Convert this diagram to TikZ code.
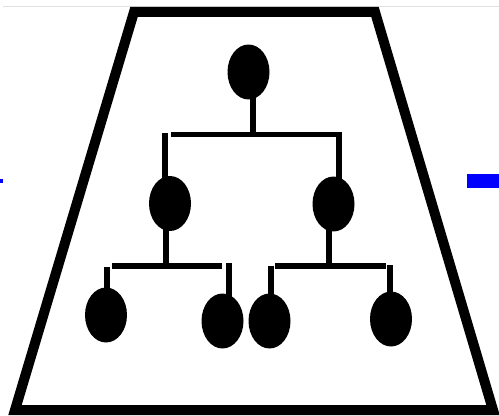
\documentclass[tikz,border=0pt]{standalone}
\usetikzlibrary{shapes.geometric}

\begin{document}
\begin{tikzpicture}[
  x=0.02cm, y=-0.02cm,
  member/.style={ellipse, fill=black, minimum width=0.84cm, minimum height=1.1cm, inner sep=0pt},
  link/.style={draw=black, line width=0.12cm},
  frame/.style={draw=black, line width=0.2cm, line join=miter},
  edgemark/.style={fill=blue}
]
\useasboundingbox (0,0) rectangle (499,415);
\draw[black!12, line width=0.03cm] (3,6.5) -- (499,6.5);
\draw[frame] (134,12) -- (375,12) -- (493,410) -- (15,410) -- cycle;

\node[member] (root) at (248.5,72) {};
\node[member] (l) at (170,203.5) {};
\node[member] (r) at (333.5,204) {};
\node[member] (ll) at (106,315) {};
\node[member] (lr) at (222.5,321) {};
\node[member] (rl) at (269.5,321) {};
\node[member] (rr) at (391,319) {};

\coordinate (s0) at (253,134.5);
\coordinate (b1a) at (171,134.5);
\coordinate (b1b) at (342,134.5);
\coordinate (v1a) at (165,133);
\coordinate (v1b) at (338.5,132);
\coordinate (s1) at (165.5,266);
\coordinate (b2a) at (112,266);
\coordinate (b2b) at (222,266);
\coordinate (v2a) at (107,267);
\coordinate (v2b) at (228.5,263);
\coordinate (s2) at (328.5,266);
\coordinate (b3a) at (275,266);
\coordinate (b3b) at (386,266);
\coordinate (v3a) at (271,266);
\coordinate (v3b) at (390,265);

\draw[link] (s0 |- root.center) -- (s0);
\draw[link] (b1a) -- (b1b);
\draw[link] (v1a) -- (v1a |- l.center);
\draw[link] (v1b) -- (v1b |- r.center);
\draw[link] (s1 |- l.center) -- (s1);
\draw[link] (b2a) -- (b2b);
\draw[link] (v2a) -- (v2a |- ll.center);
\draw[link] (v2b) -- (v2b |- lr.center);
\draw[link] (s2 |- r.center) -- (s2);
\draw[link] (b3a) -- (b3b);
\draw[link] (v3a) -- (v3a |- rl.center);
\draw[link] (v3b) -- (v3b |- rr.center);

\fill[edgemark] (0,179) rectangle (3,183);
\fill[edgemark] (467,174) rectangle (499,188);
\end{tikzpicture}
\end{document}
